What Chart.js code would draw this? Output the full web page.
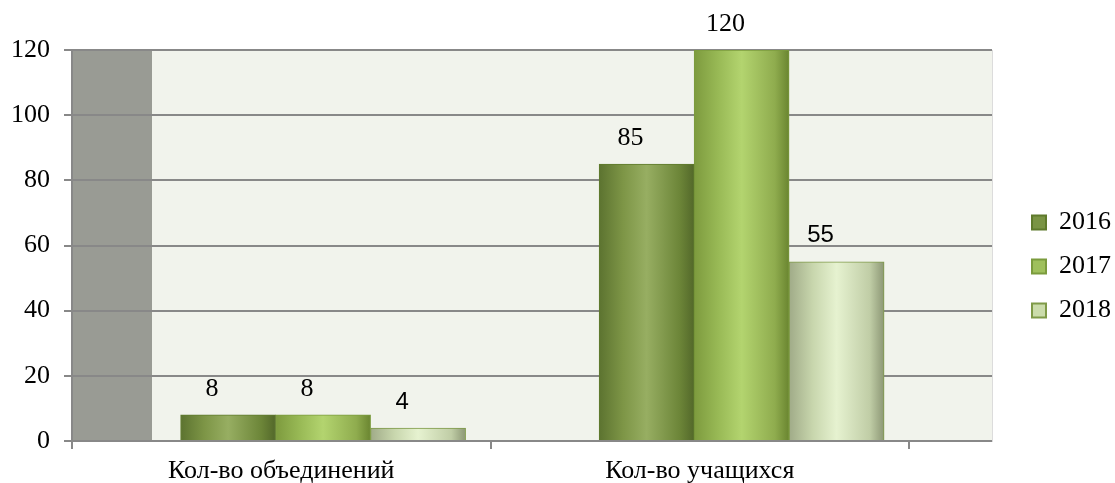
<!DOCTYPE html>
<html>
<head>
<meta charset="utf-8">
<script src="https://cdn.jsdelivr.net/npm/chart.js@4/dist/chart.umd.min.js"></script>
<style>
  body { margin: 0; background: #fff; }
</style>
</head>
<body>
<canvas id="chart" width="1115" height="483"></canvas>
<script>
const categories = ['Кол-во объединений', 'Кол-во учащихся'];
const years = ['2016', '2017', '2018'];
const values2016 = [8, 85];
const values2017 = [8, 120];
const values2018 = [4, 55];
const yTicks = [0, 20, 40, 60, 80, 100, 120];

const SERIF = '"Liberation Serif", "Times New Roman", serif';
const SANS = '"Liberation Sans", Arial, sans-serif';
const BAR_W = 95;
const SPAN = 920 / 418.5;   // plot width in category units
const DEPTH = 0.1;          // 3d shift of the bars

// solid colours for the legend, stops for the cylinder shading
const seriesStyle = [
  { fill: '#7a9444', border: '#5f7a2c', stops: ['#5c7330', '#7d9546', '#97ae62', '#6c8538', '#53682a'] },
  { fill: '#9fc05c', border: '#7b9b3d', stops: ['#7d9a3e', '#98b955', '#b3d46f', '#8fac4e', '#6a8530'] },
  { fill: '#cbdcab', border: '#7f9a48', stops: ['#a0ab88', '#c8d6ad', '#e6f2d0', '#c0cda6', '#8c9775'] }
];

function barFill(i) {
  return (ctx) => {
    const st = seriesStyle[i];
    const chart = ctx.chart;
    if (ctx.type !== 'data' || !chart.chartArea || !chart.scales.xb) return st.fill;
    const cx = chart.scales.xb.getPixelForValue(ctx.raw.x) + (i - 1) * BAR_W;
    const g = chart.ctx.createLinearGradient(cx - BAR_W / 2, 0, cx + BAR_W / 2, 0);
    g.addColorStop(0, st.stops[0]);
    g.addColorStop(0.25, st.stops[1]);
    g.addColorStop(0.5, st.stops[2]);
    g.addColorStop(0.85, st.stops[3]);
    g.addColorStop(1, st.stops[4]);
    return g;
  };
}

const series = [values2016, values2017, values2018];
const datasets = series.map((vals, i) => ({
  label: years[i],
  data: vals.map((v, k) => ({ x: k, y: v })),
  xAxisID: 'xb',
  yAxisID: 'y',
  backgroundColor: barFill(i),
  borderColor: seriesStyle[i].border,
  borderWidth: 1,
  barThickness: BAR_W
}));

const plotBackground = {
  id: 'plotBackground',
  beforeDraw(chart) {
    const { ctx, chartArea: a } = chart;
    ctx.save();
    ctx.fillStyle = '#f1f3ec';
    ctx.fillRect(a.left, a.top, a.right - a.left, a.bottom - a.top);
    ctx.fillStyle = '#999b94';
    ctx.fillRect(a.left, a.top, 80, a.bottom - a.top);
    ctx.restore();
  }
};

const valueLabels = {
  id: 'valueLabels',
  afterDatasetsDraw(chart) {
    const ctx = chart.ctx;
    ctx.save();
    ctx.fillStyle = '#000';
    ctx.textAlign = 'center';
    ctx.textBaseline = 'middle';
    chart.data.datasets.forEach((ds, i) => {
      ctx.font = i === 2 ? '24px ' + SANS : '26px ' + SERIF;
      chart.getDatasetMeta(i).data.forEach((el, k) => {
        ctx.fillText(String(series[i][k]), el.x - 16, el.y - 26);
      });
    });
    ctx.restore();
  }
};

new Chart(document.getElementById('chart'), {
  type: 'bar',
  data: { datasets },
  options: {
    responsive: false,
    animation: false,
    devicePixelRatio: 1,
    layout: { padding: { top: 50, left: 0, bottom: 0, right: -6 } },
    plugins: {
      legend: {
        position: 'right',
        labels: {
          boxWidth: 14,
          boxHeight: 14,
          padding: 18,
          color: '#000',
          font: { family: SERIF, size: 26 },
          generateLabels: (chart) => Chart.defaults.plugins.legend.labels.generateLabels(chart)
            .map((item, i) => Object.assign(item, {
              fillStyle: seriesStyle[i].fill,
              strokeStyle: seriesStyle[i].border,
              lineWidth: 2
            }))
        }
      },
      tooltip: { enabled: false }
    },
    scales: {
      x: {
        type: 'linear',
        position: 'bottom',
        min: 0,
        max: SPAN,
        bounds: 'data',
        offset: false,
        afterBuildTicks: (s) => { s.ticks = [0, 0.5, 1, 1.5, 2].map(v => ({ value: v })); },
        afterFit: (s) => { s.height = 42; },
        grid: {
          offset: false,
          drawOnChartArea: false,
          tickLength: 8,
          lineWidth: 2,
          color: (c) => (c.tick && c.tick.value % 1 === 0) ? '#888888' : 'rgba(0,0,0,0)'
        },
        border: { color: '#888888', width: 2 },
        ticks: {
          autoSkip: false,
          maxRotation: 0,
          padding: 7,
          color: '#000',
          font: { family: SERIF, size: 26 },
          callback: (v) => (v % 1 ? categories[Math.floor(v)] : '')
        }
      },
      xb: {
        type: 'linear',
        display: false,
        min: -(0.5 + DEPTH),
        max: SPAN - (0.5 + DEPTH),
        bounds: 'data',
        offset: false
      },
      y: {
        min: 0,
        max: 120,
        afterBuildTicks: (s) => { s.ticks = yTicks.map(v => ({ value: v })); },
        afterFit: (s) => { s.width = 72; },
        grid: { color: '#888888', lineWidth: 2, tickLength: 8 },
        border: { color: '#888888', width: 2 },
        ticks: {
          padding: 14,
          color: '#000',
          font: { family: SERIF, size: 26 }
        }
      },
      ys: {
        type: 'linear',
        position: 'right',
        afterFit: (s) => { s.width = 22; },
        grid: { display: false },
        ticks: { display: false },
        border: { display: true, color: '#dcdcdc', width: 1 }
      }
    }
  },
  plugins: [plotBackground, valueLabels]
});
</script>
</body>
</html>
